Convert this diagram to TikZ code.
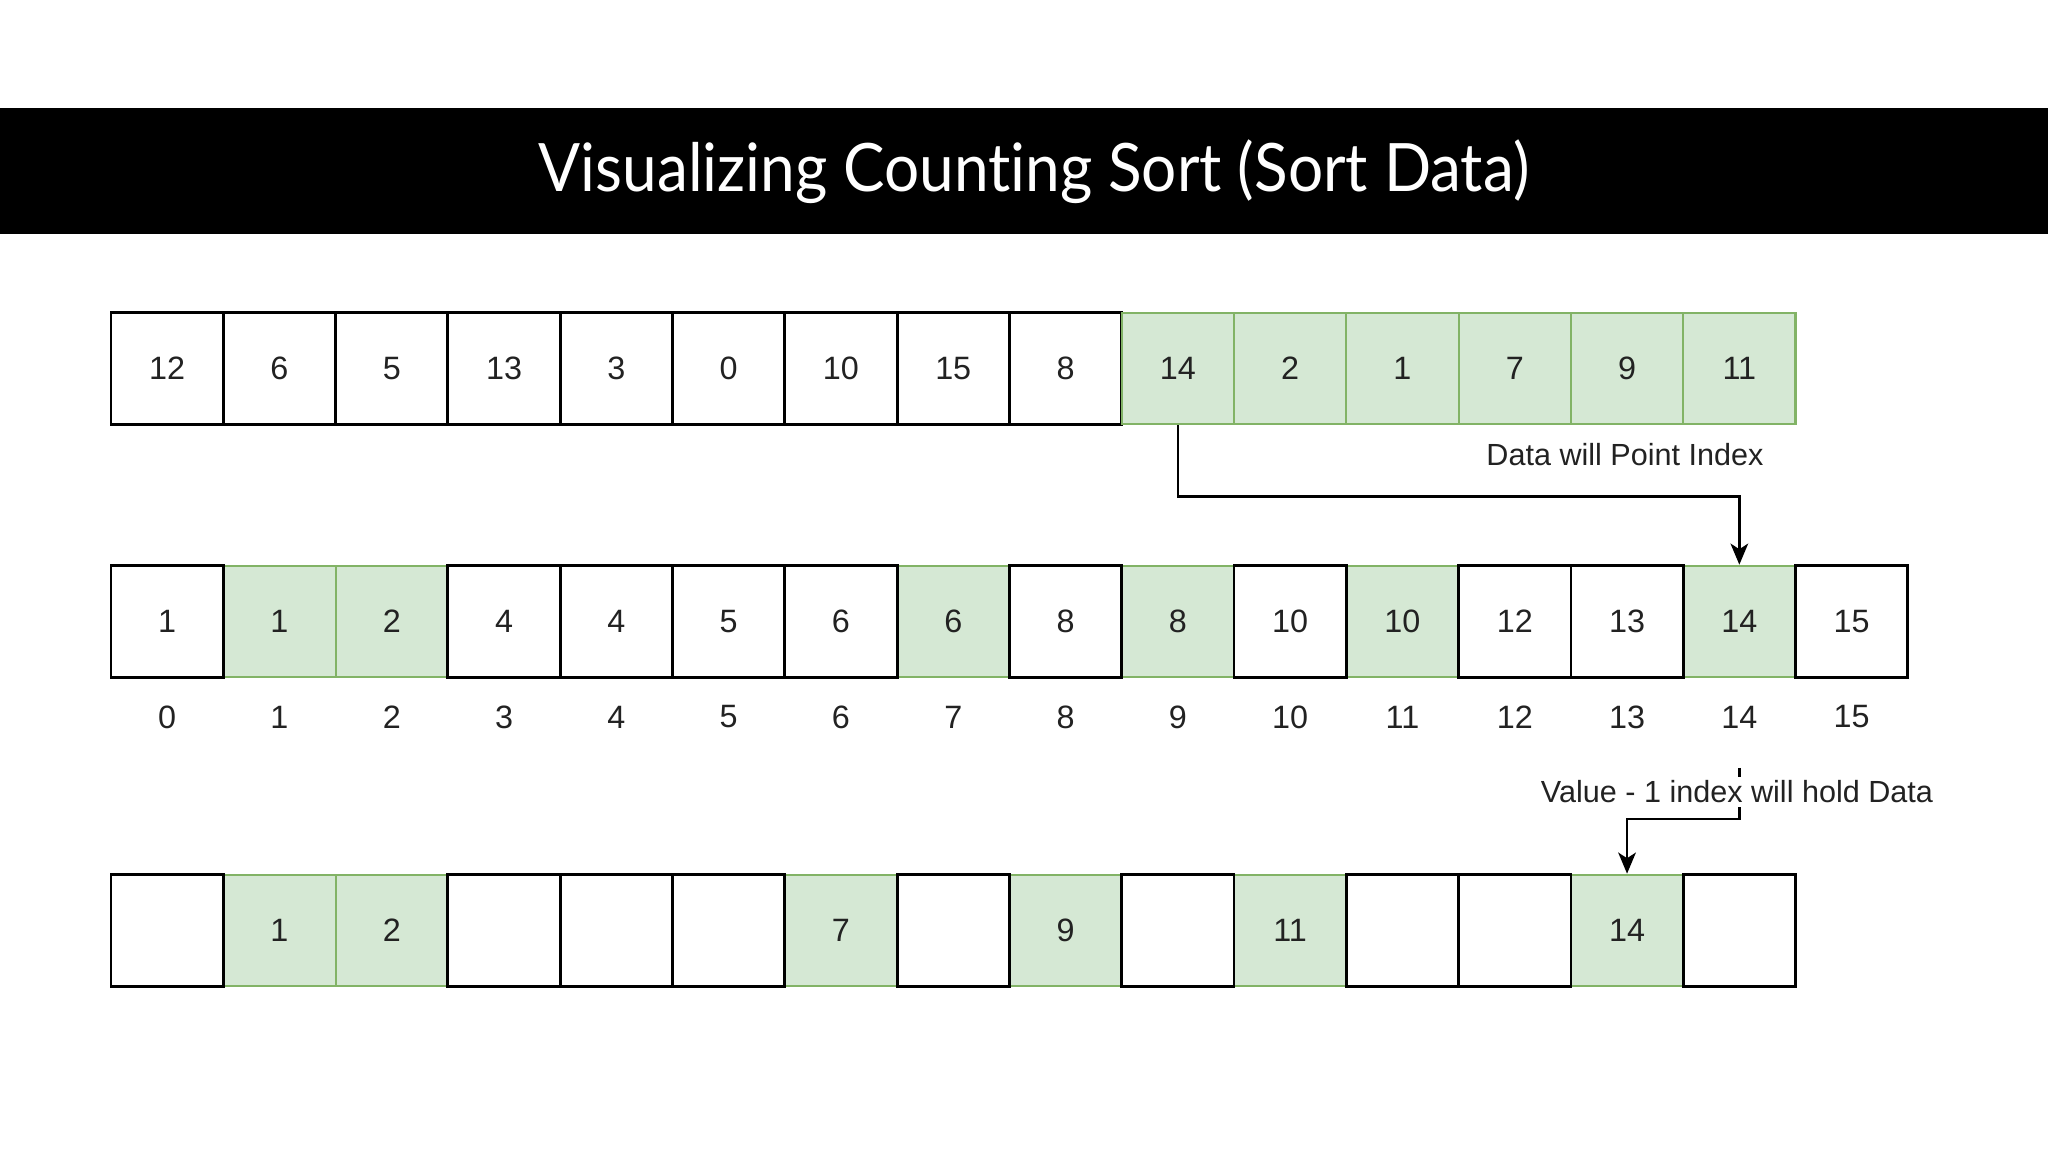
\documentclass[tikz,border=0pt]{standalone}
\usepackage{fontspec}
\setmainfont{Liberation Sans}
\newfontfamily\titlefont[FakeStretch=0.93, Ligatures=NoCommon]{Lato}
\usetikzlibrary{arrows.meta}
\definecolor{hitfill}{HTML}{D5E8D4}
\definecolor{hitline}{HTML}{82B366}
\definecolor{ink}{HTML}{222222}

\tikzset{
	cell/.style={draw=black, line width=0.8pt, fill=white, minimum width=1.123cm, minimum height=1.115cm, inner sep=0pt, font=\fontsize{9.2}{10}\selectfont, text=ink},
	hit/.style={cell, draw=hitline, line width=0.6pt, fill=hitfill},
	idx/.style={font=\fontsize{9.2}{10}\selectfont, text=ink},
	note/.style={font=\fontsize{8.7}{10}\selectfont, text=ink},
	link/.style={line width=0.75pt, -{Stealth[length=6pt, width=5pt, inset=1.6pt]}}
}

\begin{document}
\begin{tikzpicture}
	\useasboundingbox (0,0) rectangle (20.48,-11.52);
	\fill[black] (0,-1.08) rectangle (20.48,-2.34);
	\node[text=white, font=\titlefont\fontsize{19}{23}\selectfont] (title) at (10.34,-1.72) {Visualizing Counting Sort (Sort Data)};

	% data
	\foreach \v [count=\i from 0] in {12,6,5,13,3,0,10,15,8}
		\node[cell] (t\i) at ({1.6715+1.123*\i},-3.685) {\v};
	\foreach \v [count=\i from 9] in {14,2,1,7,9,11}
		\node[hit] (t\i) at ({1.6715+1.123*\i},-3.685) {\v};

	% count
	\foreach \i/\v in {1/1,2/2,7/6,9/8,11/10,14/14}
		\node[hit] (m\i) at ({1.6715+1.123*\i},-6.215) {\v};
	\foreach \i/\v in {0/1,3/4,4/4,5/5,6/6,8/8,10/10,12/12,13/13,15/15}
		\node[cell] (m\i) at ({1.6715+1.123*\i},-6.215) {\v};
	\foreach \i in {0,...,15}
		\node[idx] (i\i) at ({1.6715+1.123*\i},-7.17) {\i};

	% output
	\foreach \i/\v in {1/1,2/2,6/7,8/9,10/11,13/14}
		\node[hit] (b\i) at ({1.6715+1.123*\i},-9.305) {\v};
	\foreach \i in {0,3,4,5,7,9,11,12,14}
		\node[cell] (b\i) at ({1.6715+1.123*\i},-9.305) {};

	\draw[link] (t9.south) -- ++(0,-0.71) -| (m14.north);
	\node[note] (pointnote) at (16.25,-4.55) {Data will Point Index};

	\coordinate (holdtop) at ([yshift=-5.1mm]i14.center);
	\draw[link] (holdtop) -- ++(0,-0.51) -| (b13.north);
	\node[note, fill=white, inner sep=1pt] (holdnote) at (17.37,-7.92) {Value - 1 index will hold Data};
\end{tikzpicture}
\end{document}
